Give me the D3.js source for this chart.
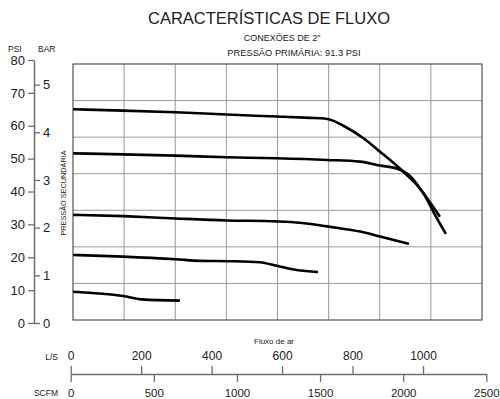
<!DOCTYPE html>
<html>
<head>
<meta charset="utf-8">
<script src="https://cdn.jsdelivr.net/npm/d3@7"></script>
<style>
	body { margin: 0; background: #fff; }
	svg { display: block; font-family: "Liberation Sans", Arial, Helvetica, sans-serif; }
</style>
</head>
<body>
<svg id="chart" width="500" height="399"></svg>
<script>
// curves: [flow in L/S, secondary pressure in PSI]
const CURVE_65 = [[7, 65.0], [149, 64.6], [298, 64.1], [443, 63.4], [585, 62.8], [679, 62.4], [720, 62.2],
	[748, 61.4], [774, 60.0], [831, 56.2], [878, 52.1], [944, 46.0], [1001, 39.5], [1034, 32.9], [1065, 27.1]];
const CURVE_52 = [[7, 51.6], [149, 51.3], [298, 50.9], [443, 50.4], [585, 50.1], [727, 49.6], [821, 49.1],
	[878, 47.9], [925, 47.0], [963, 44.7], [1001, 39.5], [1048, 32.3]];
const CURVE_33 = [[7, 32.9], [149, 32.5], [298, 31.8], [443, 31.2], [585, 30.9], [651, 30.5], [727, 29.4],
	[764, 28.8], [831, 27.6], [878, 26.3], [960, 24.1]];
const CURVE_20 = [[7, 20.7], [149, 20.2], [298, 19.4], [367, 18.9], [452, 18.8], [537, 18.5], [585, 17.4],
	[641, 16.1], [702, 15.5]];
const CURVE_9 = [[7, 9.5], [149, 8.2], [202, 7.2], [310, 6.8]];

const PSI_TICKS = [0, 10, 20, 30, 40, 50, 60, 70, 80];
const BAR_TICKS = [0, 1, 2, 3, 4, 5];
const LS_TICKS = [0, 200, 400, 600, 800, 1000];
const SCFM_TICKS = [0, 500, 1000, 1500, 2000, 2500];

const PSI_PER_BAR = 14.5038;
const AXIS_GREY = '#6e6e6e';
const fmt = d3.format('d');

const svg = d3.select('#chart');

/* scales */
const psi = d3.scaleLinear().domain([0, 80]).range([323, 60]);
const bar = d3.scaleLinear().domain([0, 80 / PSI_PER_BAR]).range([323, 60]);
const ls = d3.scaleLinear().domain([0, 1000]).range([70.7, 423]);
const scfm = d3.scaleLinear().domain([0, 2500]).range([70.7, 486.3]);
// the frame grid has its own even divisions
const gx = d3.scaleLinear().domain([0, 8]).range([73, 482]);
const gy = d3.scaleLinear().domain([0, 7]).range([320, 64]);

/* grid + frame */
const grid = svg.append('g');
grid.selectAll('line.v')
	.data(d3.range(1, 8))
	.enter().append('line')
		.attr('x1', d => gx(d)).attr('x2', d => gx(d))
		.attr('y1', gy(0)).attr('y2', gy(7))
		.style('stroke', '#9a9a9a').style('stroke-width', 1);
grid.selectAll('line.h')
	.data(d3.range(1, 7))
	.enter().append('line')
		.attr('x1', gx(0)).attr('x2', gx(8))
		.attr('y1', d => gy(d)).attr('y2', d => gy(d))
		.style('stroke', '#9a9a9a').style('stroke-width', 1);
grid.append('rect')
	.attr('x', gx(0)).attr('y', gy(7))
	.attr('width', gx(8) - gx(0)).attr('height', gy(0) - gy(7))
	.style('fill', 'none').style('stroke', '#444').style('stroke-width', 1.1);

/* curves */
const line = d3.line()
	.x(d => ls(d[0]))
	.y(d => psi(d[1]))
	.curve(d3.curveMonotoneX);
svg.selectAll('path.curve')
	.data([CURVE_65, CURVE_52, CURVE_33, CURVE_20, CURVE_9])
	.enter().append('path')
		.attr('class', 'curve')
		.attr('d', line)
		.style('fill', 'none')
		.style('stroke', '#000')
		.style('stroke-width', 2.6)
		.style('stroke-linecap', 'butt');

/* pressure axes */
function styleAxis(g, size) {
	g.selectAll('path').style('stroke', AXIS_GREY).style('stroke-width', 1.5);
	g.selectAll('line').style('stroke', AXIS_GREY).style('stroke-width', 1.3);
	g.selectAll('text').style('font-family', '"Liberation Sans", Arial, sans-serif')
		.style('font-size', size + 'px').style('fill', '#222');
}
svg.append('g')
	.attr('transform', 'translate(34,0)')
	.call(d3.axisLeft(psi).tickValues(PSI_TICKS).tickFormat(fmt).tickSize(6).tickSizeOuter(0).tickPadding(3))
	.call(g => styleAxis(g, 13));
svg.append('g')
	.attr('transform', 'translate(34,0)')
	.call(d3.axisRight(bar).tickValues(BAR_TICKS).tickFormat(fmt).tickSize(6).tickSizeOuter(0).tickPadding(3))
	.call(g => g.select('.domain').remove())
	.call(g => styleAxis(g, 13));

/* flow axes */
svg.append('g')
	.attr('transform', 'translate(0,374)')
	.call(d3.axisBottom(scfm).tickValues(SCFM_TICKS).tickFormat(fmt).tickSize(8).tickSizeOuter(0).tickPadding(7))
	.call(g => styleAxis(g, 11.5));
svg.append('g')
	.attr('transform', 'translate(0,374)')
	.call(d3.axisTop(ls).tickValues(LS_TICKS).tickFormat(fmt).tickSize(8).tickSizeOuter(0).tickPadding(6))
	.call(g => g.select('.domain').remove())
	.call(g => styleAxis(g, 12));

/* labels */
const labels = [
	{ x: 269, y: 24, t: 'CARACTERÍSTICAS DE FLUXO', s: 16.5, a: 'middle' },
	{ x: 282, y: 40.5, t: 'CONEXÕES DE 2"', s: 9, a: 'middle' },
	{ x: 294, y: 56, t: 'PRESSÃO PRIMÁRIA: 91.3 PSI', s: 9.3, a: 'middle' },
	{ x: 8, y: 52, t: 'PSI', s: 8.5, a: 'start' },
	{ x: 38, y: 52, t: 'BAR', s: 8.5, a: 'start' },
	{ x: 254, y: 343.5, t: 'Fluxo de ar', s: 8, a: 'start' },
	{ x: 58, y: 359.5, t: 'L/S', s: 8.5, a: 'end' },
	{ x: 58, y: 396, t: 'SCFM', s: 8.5, a: 'end' }
];
svg.selectAll('text.lbl')
	.data(labels)
	.enter().append('text')
		.attr('class', 'lbl')
		.attr('x', d => d.x)
		.attr('y', d => d.y)
		.attr('text-anchor', d => d.a)
		.style('font-size', d => d.s + 'px')
		.style('fill', '#222')
		.text(d => d.t);

svg.append('text')
	.attr('transform', 'translate(66,193) rotate(-90)')
	.attr('text-anchor', 'middle')
	.style('font-size', '7.3px')
	.style('fill', '#222')
	.text('PRESSÃO SECUNDÁRIA');
</script>
</body>
</html>
